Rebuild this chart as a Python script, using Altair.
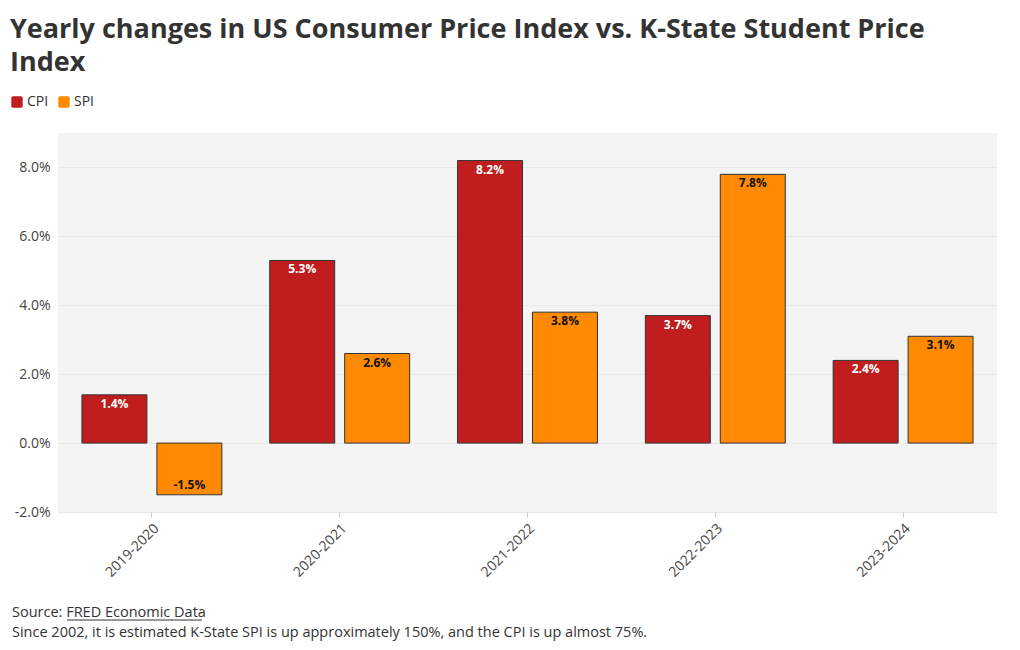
import altair as alt
import pandas as pd

periods = ["2019-2020", "2020-2021", "2021-2022", "2022-2023", "2023-2024"]
cpi = [1.4, 5.3, 8.2, 3.7, 2.4]
spi = [-1.5, 2.6, 3.8, 7.8, 3.1]
series = ["CPI", "SPI"]
colors = ["#c01e1e", "#ff8a00"]
y_ticks = [-2, 0, 2, 4, 6, 8]

rows = []
for p, c, s in zip(periods, cpi, spi):
    rows.append({"period": p, "series": "CPI", "value": c})
    rows.append({"period": p, "series": "SPI", "value": s})
df = pd.DataFrame(rows)

FONT = "Open Sans"
FMT = "replace(format(datum.value, '.1f'), '\u2212', '-') + '%'"

base = alt.Chart(df).transform_calculate(label=FMT)

x = alt.X("period:N", sort=periods, title=None,
          scale=alt.Scale(paddingInner=0.255, paddingOuter=0.1275),
          axis=alt.Axis(labelAngle=-45, labelFontSize=14, labelColor="#444",
                        labelFont=FONT, domain=False, tickColor="#ccc",
                        tickSize=5, labelPadding=4))
xo = alt.XOffset("series:N", sort=series,
                 scale=alt.Scale(paddingInner=0.133, paddingOuter=0))

bars = base.mark_bar(stroke="#333", strokeWidth=1).encode(
    x=x,
    xOffset=xo,
    y=alt.Y("value:Q", title=None,
            scale=alt.Scale(domain=[-2, 9], nice=False),
            axis=alt.Axis(values=y_ticks, labelExpr=FMT,
                          labelFontSize=14, labelColor="#444", labelFont=FONT,
                          domain=False, ticks=False, gridColor="#e8e8e8",
                          labelPadding=8)),
    color=alt.Color("series:N", sort=series,
                    scale=alt.Scale(domain=series, range=colors),
                    legend=alt.Legend(title=None, orient="none", legendX=-48,
                                      legendY=-38, direction="horizontal",
                                      symbolType="M-0.7,-1H0.7A0.3,0.3 0 0 1 1,-0.7V0.7A0.3,0.3 0 0 1 0.7,1H-0.7A0.3,0.3 0 0 1 -1,0.7V-0.7A0.3,0.3 0 0 1 -0.7,-1Z",
                                      symbolSize=130,
                                      symbolStrokeWidth=0, labelFontSize=14,
                                      labelColor="#333", labelFont=FONT,
                                      columnPadding=8, labelOffset=3)),
)

txt_color = alt.condition("datum.series == 'CPI'", alt.value("white"), alt.value("#111"))

pos_text = base.transform_filter("datum.value >= 0").mark_text(
    baseline="top", dy=4, fontWeight="bold", fontSize=12, font=FONT
).encode(x=alt.X("period:N", sort=periods), xOffset=xo,
         y="value:Q", text="label:N", color=txt_color)

neg_text = base.transform_filter("datum.value < 0").mark_text(
    baseline="bottom", dy=-3, fontWeight="bold", fontSize=12, font=FONT
).encode(x=alt.X("period:N", sort=periods), xOffset=xo,
         y="value:Q", text="label:N", color=txt_color)

foot = pd.DataFrame({"t": ["Source: FRED Economic Data"]})
foot1 = alt.Chart(foot).mark_text(align="left", baseline="alphabetic",
                                 fontSize=14.5, color="#333", font=FONT).encode(
    x=alt.value(-46), y=alt.value(484), text="t:N")
foot2 = alt.Chart(pd.DataFrame({"t": ["Since 2002, it is estimated K-State SPI is up approximately 150%, and the CPI is up almost 75%."]})).mark_text(
    align="left", baseline="alphabetic", fontSize=14.5, color="#333", font=FONT).encode(
    x=alt.value(-46), y=alt.value(504), text="t:N")
underline = alt.Chart(foot).mark_rule(color="#333", strokeWidth=1).encode(
    x=alt.value(9), x2=alt.value(144), y=alt.value(487))

chart = alt.layer(bars, pos_text, neg_text, foot1, foot2, underline).properties(
    width=939, height=379,
    background="white",
    autosize=alt.AutoSizeParams(type="none"),
    padding={"left": 50, "top": 125, "right": 15, "bottom": 130},
    title=alt.Title(["Yearly changes in US Consumer Price Index vs. K-State Student Price", "Index"],
                    anchor="start", frame="bounds", fontSize=27, font=FONT,
                    fontWeight="bold", color="#333", lineHeight=33, offset=18),
).configure_view(fill="#f4f4f4", stroke=None)

chart.save("out.html", embed_options={"renderer": "svg", "actions": False})
